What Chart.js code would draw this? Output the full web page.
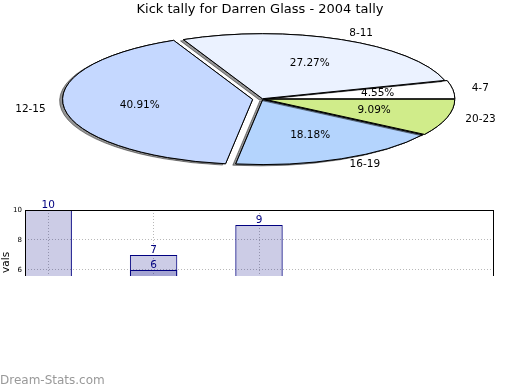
<!DOCTYPE html>
<html>
<head>
<meta charset="utf-8">
<script src="https://cdn.jsdelivr.net/npm/chart.js@4.4.1/dist/chart.umd.min.js"></script>
<style>
  html, body { margin: 0; padding: 0; background: #fff; }
  #page { position: relative; width: 520px; height: 390px; overflow: hidden; }
  #pie { position: absolute; left: 0; top: 0; }
  #barClip { position: absolute; left: 0; top: 200px; width: 520px; height: 76px; overflow: hidden; }
  #bars { position: absolute; left: 0; top: 0; }
  #mark { position: absolute; left: 0; top: 373px; font: 12px "DejaVu Sans", sans-serif; line-height: 14px; color: #999; }
</style>
</head>
<body>
<div id="page">
  <canvas id="pie" width="520" height="390"></canvas>
  <div id="barClip"><canvas id="bars" width="520" height="122"></canvas></div>
  <div id="mark">Dream-Stats.com</div>
</div>
<script>
const pieLabels = ['4-7', '8-11', '12-15', '16-19', '20-23'];
const pieCounts = [1, 6, 9, 4, 2];
const pieColors = ['#ffffff', '#ebf2ff', '#c5d8ff', '#b4d4fd', '#d0ec8a'];
const pieExplode = [0.015, 0.005, 0.05, 0.01, 0.015];

const barX = [0, 1, 2];
const barValsA = [10, 7, 9];
const barValsB = [null, 6, null];
const yTicks = [4, 6, 8, 10];

// where the squashed pie sits on the page
const pieCX = 262, pieCY = 99, pieSquash = 0.342;

Chart.defaults.font.family = '"DejaVu Sans", sans-serif';
Chart.defaults.color = '#000';
Chart.defaults.animation = false;

function arcMid(arc) { return (arc.startAngle + arc.endAngle) / 2; }
function toPage(arc, dist) {
    const a = arcMid(arc);
    return { x: pieCX + dist * Math.cos(a), y: pieCY - pieSquash * dist * Math.sin(a) };
}

const squashedPie = {
    id: 'squashedPie',
    beforeDatasetsDraw(chart) {
        const ctx = chart.ctx;
        const arcs = chart.getDatasetMeta(0).data;
        const base = ctx.getTransform();
        const stroke = ctx.stroke;
        // keep outlines 1px wide whatever the squash
        ctx.stroke = function () { this.save(); this.setTransform(base); stroke.call(this); this.restore(); };
        arcs.forEach((arc, i) => {
            const a = arcMid(arc);
            const d = pieExplode[i] * arc.outerRadius;
            [true, false].forEach(shadow => {
                ctx.save();
                ctx.translate(pieCX, pieCY);
                ctx.scale(1, -pieSquash);
                ctx.translate(Math.cos(a) * d - arc.x, Math.sin(a) * d - arc.y);
                if (shadow) {
                    ctx.shadowColor = 'rgba(0,0,0,0.42)';
                    ctx.shadowOffsetX = -3;
                    ctx.shadowOffsetY = 1.3;
                }
                arc.draw(ctx);
                ctx.restore();
            });
        });
        delete ctx.stroke;
        return false;
    },
    afterDraw(chart) {
        const ctx = chart.ctx;
        const arcs = chart.getDatasetMeta(0).data;
        const total = pieCounts.reduce((s, v) => s + v, 0);
        ctx.save();
        ctx.font = '10.5px "DejaVu Sans"';
        ctx.fillStyle = '#000';
        ctx.textBaseline = 'middle';
        arcs.forEach((arc, i) => {
            const R = arc.outerRadius;
            const e = pieExplode[i] * R;
            const p = toPage(arc, 1.1 * R + e);
            ctx.textAlign = Math.cos(arcMid(arc)) > 0 ? 'left' : 'right';
            ctx.fillText(pieLabels[i], p.x, p.y);
            const q = toPage(arc, 0.6 * R + e);
            ctx.textAlign = 'center';
            ctx.fillText((pieCounts[i] / total * 100).toFixed(2) + '%', q.x, q.y);
        });
        ctx.restore();
    }
};

new Chart(document.getElementById('pie'), {
    type: 'pie',
    data: {
        labels: pieLabels,
        datasets: [{
            data: pieCounts,
            backgroundColor: pieColors,
            borderColor: '#000',
            borderWidth: 1,
            borderJoinStyle: 'miter',
            radius: 190,
            rotation: 90
        }]
    },
    options: {
        responsive: false,
        plugins: {
            legend: { display: false },
            tooltip: { enabled: false },
            title: {
                display: true,
                text: 'Kick tally for Darren Glass - 2004 tally',
                font: { size: 13, weight: 'normal' },
                color: '#000',
                padding: { top: 2, bottom: 0 }
            }
        }
    },
    plugins: [squashedPie]
});

const barExtras = {
    id: 'barExtras',
    afterDatasetsDraw(chart) {
        const ctx = chart.ctx;
        ctx.save();
        ctx.font = '10.5px "DejaVu Sans"';
        ctx.fillStyle = '#000080';
        ctx.textAlign = 'center';
        ctx.textBaseline = 'bottom';
        chart.data.datasets.forEach((ds, di) => {
            chart.getDatasetMeta(di).data.forEach((bar, j) => {
                ctx.fillText(String(ds.data[j].y), bar.x, bar.y + 1);
            });
        });
        // frame round the plot
        const { left, top, right, bottom } = chart.chartArea;
        ctx.strokeStyle = '#000';
        ctx.lineWidth = 1;
        ctx.strokeRect(Math.round(left) + 0.5, Math.round(top) + 0.5, Math.round(right - left), Math.round(bottom - top));
        ctx.restore();
    }
};

function points(vals) {
    return barX.map((x, i) => ({ x: x, y: vals[i] })).filter(p => p.y != null);
}

const barStyle = {
    backgroundColor: 'rgba(0,0,128,0.2)',
    borderColor: '#000080',
    borderWidth: 1,
    grouped: false,
    barPercentage: 0.45,
    categoryPercentage: 1
};

new Chart(document.getElementById('bars'), {
    type: 'bar',
    data: {
        datasets: [
            Object.assign({ data: points(barValsA) }, barStyle),
            Object.assign({ data: points(barValsB) }, barStyle)
        ]
    },
    options: {
        responsive: false,
        layout: { padding: { top: 10, right: 27, left: 0, bottom: 0 } },
        plugins: { legend: { display: false }, tooltip: { enabled: false } },
        scales: {
            x: {
                type: 'linear',
                offset: false,
                min: -0.22,
                max: 4.22,
                afterBuildTicks: s => { s.ticks = barX.map(v => ({ value: v })); },
                afterFit: s => { s.height = 0; },
                ticks: { display: false },
                grid: { color: '#b8b8b8', drawTicks: false, offset: false },
                border: { display: false, dash: [1, 2] }
            },
            y: {
                min: 3,
                max: 10,
                afterBuildTicks: s => { s.ticks = yTicks.map(v => ({ value: v })); },
                afterFit: s => { s.width = 25; },
                ticks: { font: { size: 7 }, color: '#000', padding: 3 },
                grid: { color: '#b8b8b8', drawTicks: false },
                border: { display: false, dash: [1, 2] },
                title: { display: true, text: 'vals', font: { size: 10.5 }, color: '#000', padding: { top: 0, bottom: 0 } }
            }
        }
    },
    plugins: [barExtras]
});
</script>
</body>
</html>
